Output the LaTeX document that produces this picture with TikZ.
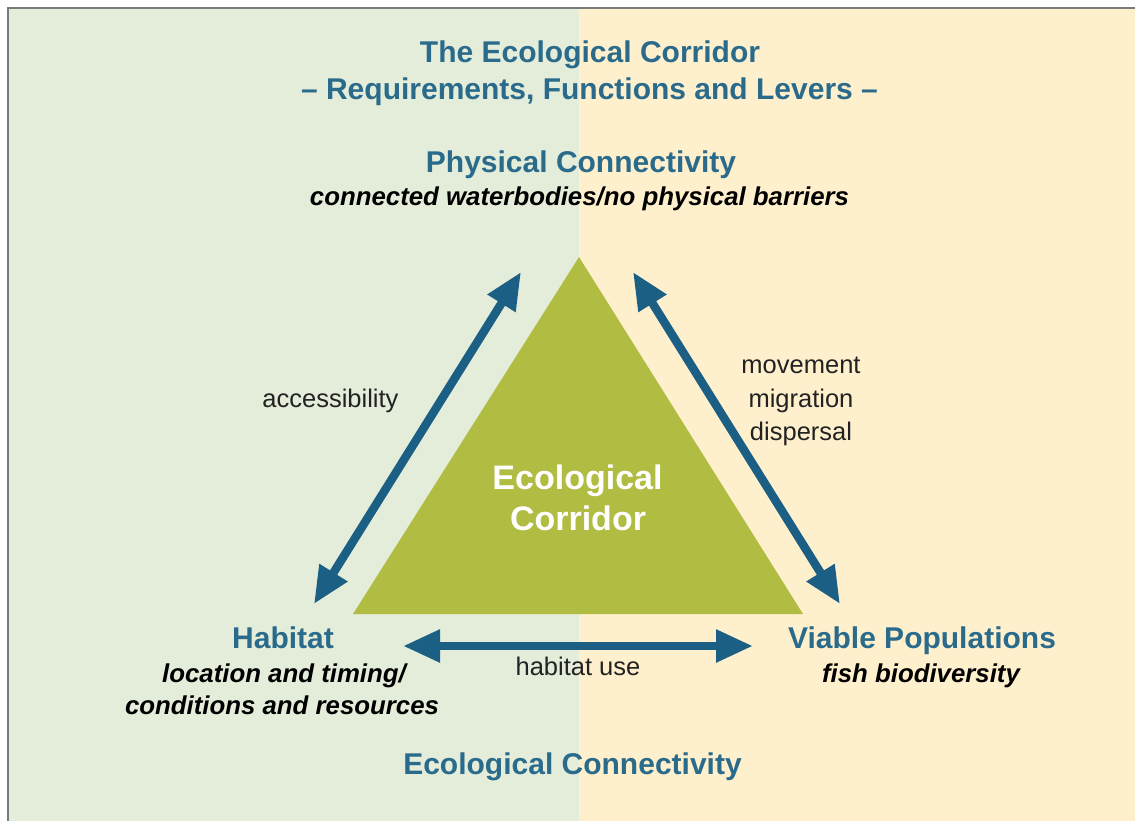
\documentclass[tikz,border=0pt]{standalone}
\usepackage{fontspec}
\setmainfont{Liberation Sans}
\usetikzlibrary{arrows.meta}
\definecolor{bggreen}{HTML}{E4EDDA}
\definecolor{bgyellow}{HTML}{FFF0CD}
\definecolor{framegray}{HTML}{7A7A7A}
\definecolor{trifill}{HTML}{B1BC42}
\definecolor{arrowblue}{HTML}{1C5F84}
\definecolor{headblue}{HTML}{2A6B8C}
\definecolor{textdark}{HTML}{222222}
\tikzset{
  head/.style={anchor=base, inner sep=0pt, text=headblue, font=\fontsize{30}{36}\selectfont\bfseries},
  sub/.style={anchor=base, inner sep=0pt, text=black, font=\fontsize{25.8}{30}\selectfont\bfseries\itshape},
  lbl/.style={anchor=base, inner sep=0pt, text=textdark, font=\fontsize{25.5}{30}\selectfont},
  core/.style={anchor=base, inner sep=0pt, text=white, font=\fontsize{34}{40}\selectfont\bfseries},
  conn/.style={draw=arrowblue, line width=8.5pt,
    {Triangle[length=37pt,width=31pt]}-{Triangle[length=37pt,width=31pt]}}
}
\begin{document}
\begin{tikzpicture}[x=1pt,y=-1pt]
\useasboundingbox (0,0) rectangle (1135,821);
\fill[white] (0,0) rectangle (1135,821);
\fill[bggreen] (8,8) rectangle (579,821);
\fill[bgyellow] (579,8) rectangle (1135,821);
\draw[framegray, line width=2pt] (8,821) -- (8,8) -- (1135,8);
% triangle
\coordinate (apex) at (579,257);
\coordinate (bl) at (353,614);
\coordinate (br) at (803,614);
\fill[trifill] (apex) -- (bl) -- (br) -- cycle;
% texts
\node[head] (t1) at (590,63) {The Ecological Corridor};
\node[head] (t2) at (589.5,100) {– Requirements, Functions and Levers –};
\node[head] (pc) at (581,173) {Physical Connectivity};
\node[sub] (pcs) at (579.5,206) {connected waterbodies/no physical barriers};
\node[lbl] (acc) at (330.5,407) {accessibility};
\node[lbl] (mv1) at (801,373) {movement};
\node[lbl] (mv2) at (801,407) {migration};
\node[lbl] (mv3) at (801,440) {dispersal};
\node[core] (ec1) at (577.5,489) {Ecological};
\node[core] (ec2) at (578,530) {Corridor};
\node[head] (hab) at (283,648) {Habitat};
\node[sub] (hab1) at (284,682) {location and timing/};
\node[sub] (hab2) at (282,714) {conditions and resources};
\node[head] (vp) at (922,648) {Viable Populations};
\node[sub] (vps) at (921,682) {fish biodiversity};
\node[lbl] (hu) at (578,675) {habitat use};
\node[head] (eco) at (572.5,774) {Ecological Connectivity};
% arrows
\coordinate (aL1) at (521,272);
\coordinate (aL2) at (314,604);
\coordinate (aR1) at (633,272);
\coordinate (aR2) at (840,604);
\coordinate (aB1) at (403,646);
\coordinate (aB2) at (753,646);
\draw[conn] (aL2) -- (aL1);
\draw[conn] (aR1) -- (aR2);
\draw[conn] (aB1) -- (aB2);
\end{tikzpicture}
\end{document}
